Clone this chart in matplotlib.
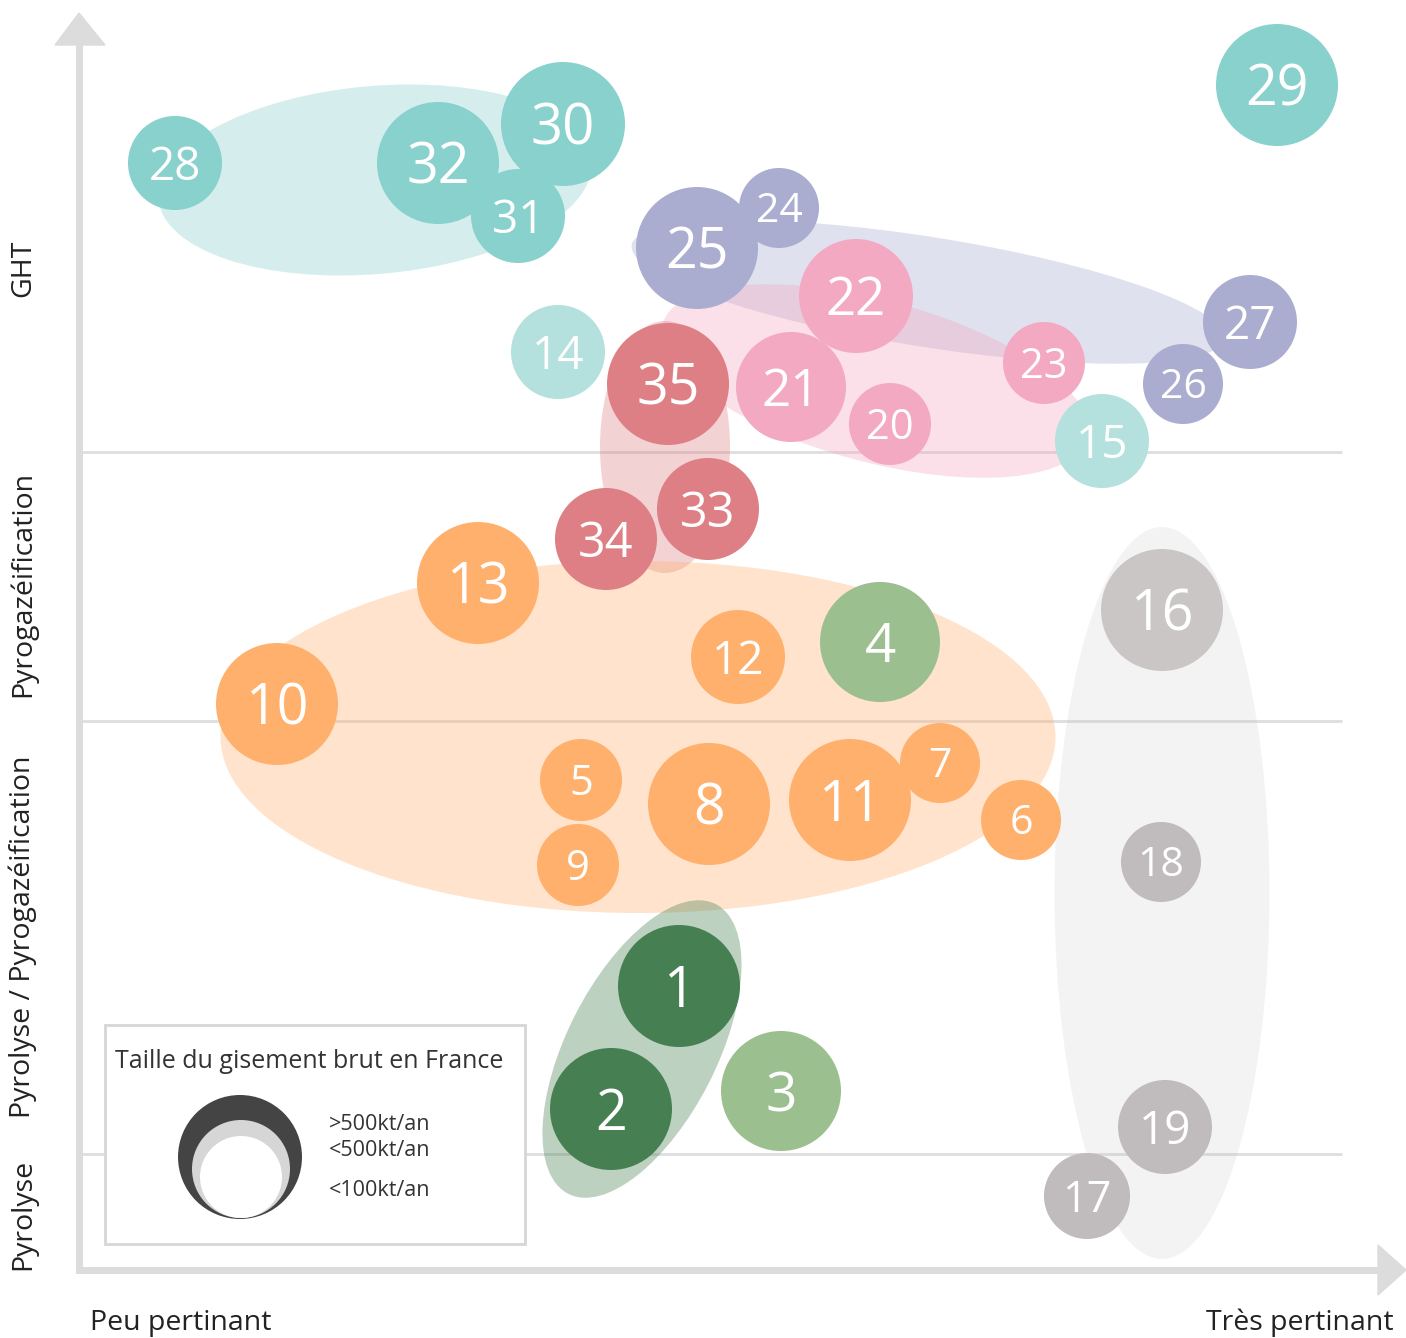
import matplotlib
matplotlib.use("Agg")
import matplotlib.pyplot as plt
from matplotlib.patches import Circle, Ellipse, Polygon, Rectangle

plt.rcParams['font.family'] = ['Open Sans', 'DejaVu Sans']

# ---- data (positions in chart pixel space) ----
labels = ['28', '32', '30', '31', '29', '24', '25', '22', '27', '23', '26',
          '14', '35', '21', '20', '15', '33', '34', '13', '16', '12', '4',
          '10', '5', '8', '11', '7', '6', '9', '18', '1', '2', '3', '19', '17']
x_vals = [175, 438, 563, 518, 1277, 779, 697, 856, 1250, 1044, 1183,
          558, 668, 791, 890, 1102, 708, 606, 478, 1162, 738, 880,
          277, 581, 709, 850, 940, 1021, 578, 1161, 679, 611, 781, 1165, 1087]
y_vals = [163, 163, 124, 216, 85, 208, 248, 296, 322, 363, 384,
          352, 384, 387, 424, 441, 509, 539, 583, 610, 657, 642,
          704, 780, 804, 800, 763, 820, 865, 862, 986, 1109, 1091, 1127, 1196]
radii = [47, 61, 62, 47, 61, 40, 61, 57, 47, 41, 40,
         47, 61, 55, 41, 47, 51, 51, 61, 61, 47, 60,
         61, 41, 61, 61, 40, 40, 41, 40, 61, 61, 60, 47, 43]
groups = ['teal', 'teal', 'teal', 'teal', 'teal', 'purple', 'purple', 'pink', 'purple', 'pink', 'purple',
          'lteal', 'red', 'pink', 'pink', 'lteal', 'red', 'red', 'orange', 'gray2', 'orange', 'lgreen',
          'orange', 'orange', 'orange', 'orange', 'orange', 'orange', 'orange', 'gray', 'dgreen', 'dgreen',
          'lgreen', 'gray', 'gray']

colors = {'teal': '#88d1cd', 'lteal': '#b4e0de', 'purple': '#aaadd0', 'pink': '#f4a9c2',
          'red': '#dd7f84', 'orange': '#ffb06d', 'lgreen': '#9cbf8f', 'dgreen': '#468052',
          'gray': '#c0bcbd', 'gray2': '#cbc6c6'}

# cluster ellipses: center x, center y, width, height, angle, color, alpha
cl_x = [375, 928, 875, 665, 638, 642, 1162]
cl_y = [180, 292, 381, 447, 737, 1049, 893]
cl_w = [435, 600, 440, 130, 835, 325, 215]
cl_h = [188, 110, 162, 252, 352, 150, 732]
cl_ang = [-5, 9, 15, 0, 0, -63, 0]
cl_col = ['#88d1cd', '#aaadd0', '#f4a9c2', '#dd7f84', '#ffb06d', '#468052', '#c0bcbd']
cl_alpha = [0.35, 0.36, 0.36, 0.35, 0.35, 0.36, 0.17]

row_labels = ['GHT', 'Pyrogazéification', 'Pyrolyse / Pyrogazéification', 'Pyrolyse']
row_label_y = [268, 584, 937, 1214]
sep_y = [452, 721, 1154]

legend_title = 'Taille du gisement brut en France'
legend_labels = ['>500kt/an', '<500kt/an', '<100kt/an']
x_low, x_high = 'Peu pertinant', 'Très pertinant'

W, H = 1406, 1338
fig = plt.figure(figsize=(W / 100, H / 100), dpi=100)
ax = fig.add_axes([0, 0, 1, 1])
ax.set_xlim(0, W)
ax.set_ylim(H, 0)
ax.axis('off')

axis_col = '#dcdcdc'
# separators
for y in sep_y:
    ax.plot([81, 1342], [y, y], color='#dedede', lw=2, zorder=1, solid_capstyle='butt')

# axes with arrows
ax.plot([79, 79], [44, 1273], color=axis_col, lw=5, zorder=1, solid_capstyle='butt')
ax.add_patch(Polygon([[55, 45], [105, 45], [79, 13]], closed=True, color=axis_col, zorder=1))
ax.plot([76, 1379], [1270, 1270], color=axis_col, lw=5, zorder=1, solid_capstyle='butt')
ax.add_patch(Polygon([[1378, 1245], [1378, 1295], [1406, 1270]], closed=True, color=axis_col, zorder=1))

# cluster ellipses
for cx, cy, w, h, a, c, al in zip(cl_x, cl_y, cl_w, cl_h, cl_ang, cl_col, cl_alpha):
    ax.add_patch(Ellipse((cx, cy), w, h, angle=a, facecolor=c, alpha=al, edgecolor='none', zorder=2))

# bubbles
for lab, x, y, r, g in zip(labels, x_vals, y_vals, radii, groups):
    ax.add_patch(Circle((x, y), r, facecolor=colors[g], edgecolor='none', zorder=3))
    ax.text(x, y + 0.1 * r, lab, ha='center', va='center', color='white',
            fontsize=0.5 * r + 9.5, zorder=4)

# row labels
for t, y in zip(row_labels, row_label_y):
    ax.text(23, y, t, rotation=90, ha='center', va='center', fontsize=20.5, color='#222222')

ax.text(90, 1323, x_low, ha='left', va='center', fontsize=20.5, color='#222222')
ax.text(1394, 1323, x_high, ha='right', va='center', fontsize=20.5, color='#222222')

# legend box
ax.add_patch(Rectangle((105, 1025), 420, 219, facecolor='white', edgecolor='#d6d6d6', lw=2, zorder=5))
ax.text(115, 1061, legend_title, ha='left', va='center', fontsize=18, color='#333333', zorder=6)
ax.add_patch(Circle((240, 1157), 62, facecolor='#444444', edgecolor='none', zorder=6))
ax.add_patch(Circle((241, 1169), 49, facecolor='#d6d6d6', edgecolor='none', zorder=6))
ax.add_patch(Circle((241, 1177), 41, facecolor='white', edgecolor='none', zorder=6))
for t, y in zip(legend_labels, [1124, 1151, 1190]):
    ax.text(329, y, t, ha='left', va='center', fontsize=15.5, color='#333333', zorder=6)

fig.savefig('out.png', dpi=100)
